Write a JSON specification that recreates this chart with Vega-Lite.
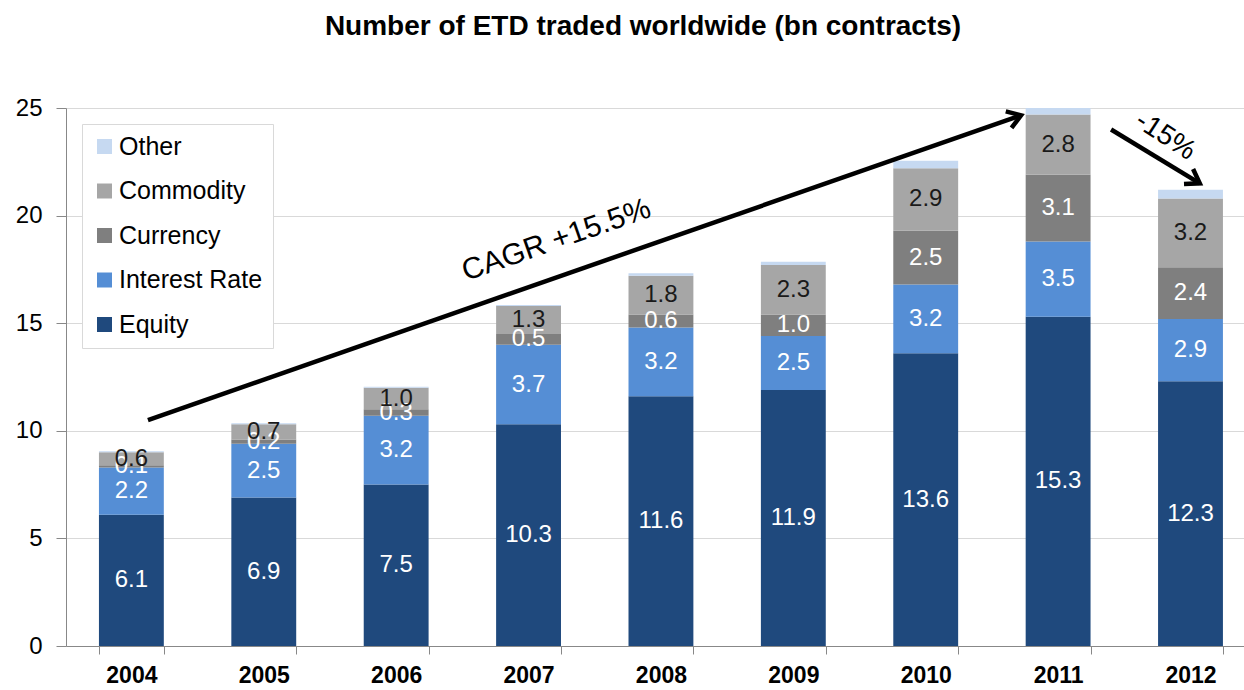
{
  "$schema": "https://vega.github.io/schema/vega-lite/v6.json",
  "autosize": "none",
  "width": 1178,
  "height": 538,
  "padding": {"left": 66, "top": 108, "right": 0, "bottom": 44},
  "title": {
    "text": "Number of ETD traded worldwide (bn contracts)",
    "fontSize": 28,
    "fontWeight": "bold",
    "font": "Liberation Sans",
    "color": "#000000",
    "anchor": "middle",
    "offset": 55,
    "dx": -12
  },
  "config": {
    "view": {"stroke": null},
    "font": "Liberation Sans",
    "axisY": {
      "grid": true,
      "gridColor": "#D9D9D9",
      "gridWidth": 1,
      "domainColor": "#888888",
      "tickColor": "#888888",
      "tickSize": 10,
      "labelFontSize": 24,
      "labelColor": "#000000",
      "labelPadding": 14,
      "title": null
    },
    "axisX": {
      "domainColor": "#888888",
      "tickColor": "#888888",
      "tickSize": 8,
      "labelFontSize": 23,
      "labelFontWeight": "bold",
      "labelColor": "#000000",
      "labelPadding": 10,
      "labelAngle": 0,
      "tickBand": "extent",
      "grid": false,
      "title": null
    },
    "legend": {
      "orient": "top-left",
      "offset": 16,
      "strokeColor": "#D9D9D9",
      "fillColor": "#FFFFFF",
      "padding": 10,
      "labelFontSize": 25,
      "labelColor": "#000000",
      "labelOffset": 2,
      "symbolType": "square",
      "symbolSize": 225,
      "symbolStrokeWidth": 0,
      "rowPadding": 18.5,
      "title": null
    }
  },
  "resolve": {"scale": {"x": "independent"}},
  "layer": [
    {
      "data": {
        "values": [
          {"year": "2004", "type": "Equity", "k": 1, "value": 6.1},
          {"year": "2004", "type": "Interest Rate", "k": 2, "value": 2.2},
          {"year": "2004", "type": "Currency", "k": 3, "value": 0.1},
          {"year": "2004", "type": "Commodity", "k": 4, "value": 0.6},
          {"year": "2004", "type": "Other", "k": 5, "value": 0.05},
          {"year": "2005", "type": "Equity", "k": 1, "value": 6.9},
          {"year": "2005", "type": "Interest Rate", "k": 2, "value": 2.5},
          {"year": "2005", "type": "Currency", "k": 3, "value": 0.2},
          {"year": "2005", "type": "Commodity", "k": 4, "value": 0.7},
          {"year": "2005", "type": "Other", "k": 5, "value": 0.05},
          {"year": "2006", "type": "Equity", "k": 1, "value": 7.5},
          {"year": "2006", "type": "Interest Rate", "k": 2, "value": 3.2},
          {"year": "2006", "type": "Currency", "k": 3, "value": 0.3},
          {"year": "2006", "type": "Commodity", "k": 4, "value": 1.0},
          {"year": "2006", "type": "Other", "k": 5, "value": 0.05},
          {"year": "2007", "type": "Equity", "k": 1, "value": 10.3},
          {"year": "2007", "type": "Interest Rate", "k": 2, "value": 3.7},
          {"year": "2007", "type": "Currency", "k": 3, "value": 0.5},
          {"year": "2007", "type": "Commodity", "k": 4, "value": 1.3},
          {"year": "2007", "type": "Other", "k": 5, "value": 0.05},
          {"year": "2008", "type": "Equity", "k": 1, "value": 11.6},
          {"year": "2008", "type": "Interest Rate", "k": 2, "value": 3.2},
          {"year": "2008", "type": "Currency", "k": 3, "value": 0.6},
          {"year": "2008", "type": "Commodity", "k": 4, "value": 1.8},
          {"year": "2008", "type": "Other", "k": 5, "value": 0.12},
          {"year": "2009", "type": "Equity", "k": 1, "value": 11.9},
          {"year": "2009", "type": "Interest Rate", "k": 2, "value": 2.5},
          {"year": "2009", "type": "Currency", "k": 3, "value": 1.0},
          {"year": "2009", "type": "Commodity", "k": 4, "value": 2.3},
          {"year": "2009", "type": "Other", "k": 5, "value": 0.15},
          {"year": "2010", "type": "Equity", "k": 1, "value": 13.6},
          {"year": "2010", "type": "Interest Rate", "k": 2, "value": 3.2},
          {"year": "2010", "type": "Currency", "k": 3, "value": 2.5},
          {"year": "2010", "type": "Commodity", "k": 4, "value": 2.9},
          {"year": "2010", "type": "Other", "k": 5, "value": 0.35},
          {"year": "2011", "type": "Equity", "k": 1, "value": 15.3},
          {"year": "2011", "type": "Interest Rate", "k": 2, "value": 3.5},
          {"year": "2011", "type": "Currency", "k": 3, "value": 3.1},
          {"year": "2011", "type": "Commodity", "k": 4, "value": 2.8},
          {"year": "2011", "type": "Other", "k": 5, "value": 0.3},
          {"year": "2012", "type": "Equity", "k": 1, "value": 12.3},
          {"year": "2012", "type": "Interest Rate", "k": 2, "value": 2.9},
          {"year": "2012", "type": "Currency", "k": 3, "value": 2.4},
          {"year": "2012", "type": "Commodity", "k": 4, "value": 3.2},
          {"year": "2012", "type": "Other", "k": 5, "value": 0.4}
        ]
      },
      "encoding": {
        "x": {
          "field": "year",
          "type": "ordinal",
          "scale": {"paddingInner": 0.51, "paddingOuter": 0.204, "align": 0.61},
          "axis": {"title": null}
        }
      },
      "layer": [
        {
          "mark": {"type": "bar"},
          "encoding": {
            "y": {
              "field": "value",
              "type": "quantitative",
              "stack": "zero",
              "scale": {"domain": [0, 25], "nice": false},
              "axis": {"title": null, "values": [0, 5, 10, 15, 20, 25]}
            },
            "order": {"field": "k", "type": "quantitative", "sort": "ascending"},
            "color": {
              "field": "type",
              "type": "nominal",
              "scale": {
                "domain": ["Other", "Commodity", "Currency", "Interest Rate", "Equity"],
                "range": ["#C6D9F1", "#A6A6A6", "#7F7F7F", "#558ED5", "#1F497D"]
              },
              "legend": {"title": null}
            }
          }
        },
        {
          "transform": [{"filter": "datum.type !== 'Other'"}],
          "mark": {"type": "text", "fontSize": 24, "baseline": "middle", "align": "center"},
          "encoding": {
            "y": {
              "field": "value",
              "type": "quantitative",
              "stack": "zero",
              "bandPosition": 0.5
            },
            "order": {"field": "k", "type": "quantitative", "sort": "ascending"},
            "detail": {"field": "type", "type": "nominal"},
            "text": {"field": "value", "type": "quantitative", "format": ".1f"},
            "color": {
              "condition": {"test": "datum.type === 'Commodity'", "value": "#1A1A1A"},
              "value": "#FFFFFF"
            }
          }
        }
      ]
    },
    {
      "data": {
        "values": [
          {"name": "cagr", "x": 2004.125, "y": 10.5, "x2": 2010.72, "y2": 24.66},
          {"name": "drop", "x": 2011.40, "y": 24.0, "x2": 2012.07, "y2": 21.5}
        ]
      },
      "layer": [
        {
          "mark": {"type": "rule", "strokeWidth": 4.5, "color": "#000000"},
          "encoding": {
            "x": {"field": "x", "type": "quantitative", "scale": {"domain": [2003.506, 2012.404], "nice": false, "zero": false}, "axis": null},
            "x2": {"field": "x2"},
            "y": {"field": "y", "type": "quantitative", "axis": {"title": null}},
            "y2": {"field": "y2"}
          }
        },
        {
          "transform": [{"filter": "datum.name === 'cagr'"}],
          "mark": {"type": "point", "shape": "M-1.2,-0.8L0,0L-1.2,0.8", "filled": false, "size": 480, "strokeWidth": 4.5, "color": "#000000", "opacity": 1, "angle": 340.8, "strokeJoin": "miter"},
          "encoding": {
            "x": {"field": "x2", "type": "quantitative", "scale": {"domain": [2003.506, 2012.404], "nice": false, "zero": false}, "axis": null},
            "y": {"field": "y2", "type": "quantitative", "axis": {"title": null}}
          }
        },
        {
          "transform": [{"filter": "datum.name === 'drop'"}],
          "mark": {"type": "point", "shape": "M-1.2,-0.8L0,0L-1.2,0.8", "filled": false, "size": 480, "strokeWidth": 4.5, "color": "#000000", "opacity": 1, "angle": 31.2, "strokeJoin": "miter"},
          "encoding": {
            "x": {"field": "x2", "type": "quantitative", "scale": {"domain": [2003.506, 2012.404], "nice": false, "zero": false}, "axis": null},
            "y": {"field": "y2", "type": "quantitative", "axis": {"title": null}}
          }
        }
      ]
    },
    {
      "data": {
        "values": [
          {"label": "CAGR +15.5%", "x": 2007.21, "y": 18.86},
          {"label": "-15%", "x": 2011.81, "y": 23.69}
        ]
      },
      "layer": [
        {
          "transform": [{"filter": "datum.label === 'CAGR +15.5%'"}],
          "mark": {"type": "text", "fontSize": 30, "angle": 340.8, "align": "center", "baseline": "middle", "color": "#000000"},
          "encoding": {
            "x": {"field": "x", "type": "quantitative", "scale": {"domain": [2003.506, 2012.404], "nice": false, "zero": false}, "axis": null},
            "y": {"field": "y", "type": "quantitative", "axis": {"title": null}},
            "text": {"field": "label"}
          }
        },
        {
          "transform": [{"filter": "datum.label === '-15%'"}],
          "mark": {"type": "text", "fontSize": 28, "angle": 33, "align": "center", "baseline": "middle", "color": "#000000"},
          "encoding": {
            "x": {"field": "x", "type": "quantitative", "scale": {"domain": [2003.506, 2012.404], "nice": false, "zero": false}, "axis": null},
            "y": {"field": "y", "type": "quantitative", "axis": {"title": null}},
            "text": {"field": "label"}
          }
        }
      ]
    }
  ]
}
